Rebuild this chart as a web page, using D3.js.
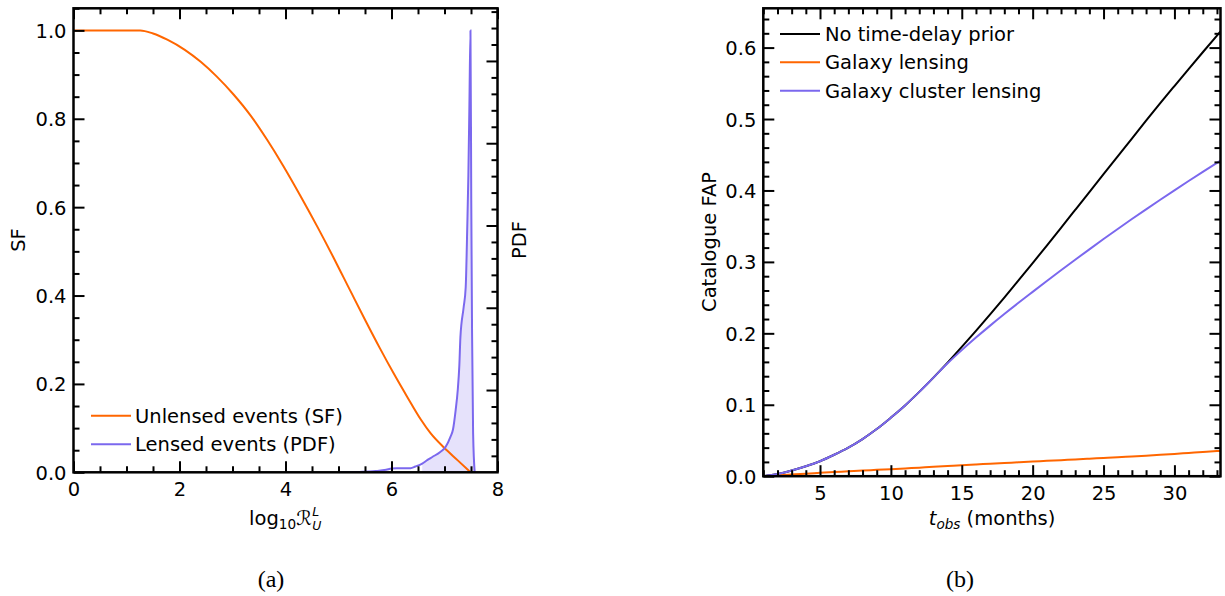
<!DOCTYPE html>
<html>
<head>
<meta charset="utf-8">
<script src="https://cdn.jsdelivr.net/npm/d3@7"></script>
<style>
  body { margin: 0; background: #fff; }
  svg { display: block; }
  text { white-space: pre; }
</style>
</head>
<body>
<svg id="fig" width="1225" height="596"></svg>
<script>
// ---------- Panel (a): log10 R_U^L distributions ----------
// Survival function of unlensed events
const sfX = [0, 1.26, 1.5, 1.77, 2.1, 2.4, 2.7, 3.02, 3.35, 3.65, 3.95, 4.28, 4.6, 4.91,
             5.1, 5.26, 5.51, 5.78, 6.04, 6.3, 6.55, 6.74, 6.99, 7.25, 7.49];
const sfY = [1, 1, 0.993, 0.979, 0.956, 0.929, 0.896, 0.855, 0.806, 0.753, 0.695, 0.626, 0.556, 0.485,
             0.440, 0.402, 0.343, 0.281, 0.224, 0.170, 0.120, 0.088, 0.056, 0.027, 0.0];
// PDF of lensed events (right-hand axis units)
const pdfX = [5.04, 5.4, 5.7, 5.9, 6.0, 6.1, 6.36, 6.45, 6.58, 6.68, 6.77, 6.92, 7.02, 7.11, 7.16,
              7.21, 7.25, 7.28, 7.30, 7.36, 7.40, 7.43, 7.45, 7.47, 7.49, 7.505, 7.52, 7.54, 7.57];
const pdfY = [0, 0.005, 0.015, 0.03, 0.045, 0.048, 0.05, 0.07, 0.106, 0.15, 0.186, 0.247, 0.307, 0.428, 0.52,
              0.754, 1.0, 1.3, 1.64, 2.0, 2.25, 3.0, 3.6, 4.47, 5.37, 3.3, 1.7, 0.47, 0];
const pdfFillFrom = 6.58;
const legendA = ["Unlensed events (SF)", "Lensed events (PDF)"];
const aXTicks = [0, 2, 4, 6, 8];
const aYTicks = [0, 0.2, 0.4, 0.6, 0.8, 1.0];
const aPdfTicks = [1, 2, 3, 4, 5];

// ---------- Panel (b): catalogue false-alarm probability ----------
const months = [1, 2, 3, 4, 5, 6, 7, 8, 9, 10, 11, 12, 13, 14, 15, 16, 17, 18, 19, 20,
                21, 22, 23, 24, 25, 26, 27, 28, 29, 30, 31, 32, 33, 33.25];
const fapNoPrior = [0.000, 0.003, 0.008, 0.014, 0.021, 0.030, 0.040, 0.052, 0.066, 0.082,
                    0.099, 0.118, 0.138, 0.159, 0.181, 0.2035, 0.2265, 0.250, 0.274, 0.2983,
                    0.3229, 0.3477, 0.3727, 0.3977, 0.4227, 0.4477, 0.4727, 0.4977, 0.5222, 0.5462,
                    0.5700, 0.5935, 0.6168, 0.6226];
const fapGalaxy = [0.0000, 0.0012, 0.0024, 0.0036, 0.0047, 0.0058, 0.0068, 0.0079, 0.0089, 0.0099,
                   0.0109, 0.0120, 0.0131, 0.0143, 0.0155, 0.0165, 0.0175, 0.0185, 0.0195, 0.0205,
                   0.0215, 0.0225, 0.0235, 0.0245, 0.0256, 0.0266, 0.0277, 0.0288, 0.0300, 0.0312,
                   0.0325, 0.0338, 0.0352, 0.0356];
const fapCluster = [0.000, 0.003, 0.008, 0.014, 0.021, 0.030, 0.040, 0.052, 0.066, 0.082,
                    0.099, 0.118, 0.138, 0.158, 0.1765, 0.194, 0.2108, 0.227, 0.2427, 0.258,
                    0.2732, 0.2882, 0.3030, 0.3176, 0.3320, 0.3461, 0.3600, 0.3736, 0.3870, 0.4002,
                    0.4132, 0.4260, 0.4386, 0.4417];
const legendB = ["No time-delay prior", "Galaxy lensing", "Galaxy cluster lensing"];
const bXTicks = [5, 10, 15, 20, 25, 30];
const bYTicks = [0, 0.1, 0.2, 0.3, 0.4, 0.5, 0.6];

// ---------- styling ----------
const FONT = "DejaVu Sans, sans-serif";
const FS = 19.5;
const FS_SMALL = 13.6;
const FS_SCRIPT = 12.5;
const ORANGE = "#ff6600";
const PURPLE = "#7b68ee";
const FILL = "#e6e2fb";

const svg = d3.select("#fig");
svg.append("rect").attr("width", 1225).attr("height", 596).attr("fill", "#fff");

function styleAxis(a) {
  a.select(".domain").remove();
  a.selectAll(".tick line").attr("stroke", "#000").attr("stroke-width", 2);
  a.selectAll("text").attr("font-family", FONT).attr("font-size", FS).attr("fill", "#000");
  return a;
}
function addAxis(g, gen, tx, ty) {
  return styleAxis(g.append("g").attr("transform", `translate(${tx},${ty})`).call(gen));
}
function frame(g, x, y) {
  const [x0, x1] = x.range(), [y0, y1] = y.range();
  g.append("rect").attr("x", x0).attr("y", y1).attr("width", x1 - x0).attr("height", y0 - y1)
    .attr("fill", "none").attr("stroke", "#000").attr("stroke-width", 2.5);
}
function measure(str, size, italic) {
  const t = svg.append("text").attr("font-family", FONT).attr("font-size", size)
    .attr("font-style", italic ? "italic" : "normal").text(str);
  const w = t.node().getComputedTextLength();
  t.remove();
  return w;
}

// ================= Panel (a) =================
const gA = svg.append("g");
const xA = d3.scaleLinear().domain([0, 8]).range([73.5, 497.5]);
const yA = d3.scaleLinear().domain([0, 1.05]).range([472.3, 8.3]);
const yPdf = d3.scaleLinear().domain([0, 5.64]).range([472.3, 8.3]);

gA.append("clipPath").attr("id", "clipA").append("rect")
  .attr("x", 73.5).attr("y", 8.3).attr("width", 424).attr("height", 464);

const pdfData = pdfX.map((x, i) => ({ x, y: pdfY[i] }));
const sfData = sfX.map((x, i) => ({ x, y: sfY[i] }));

// shaded area under the lensed PDF
gA.append("path")
  .datum(pdfData.filter(d => d.x >= pdfFillFrom))
  .attr("clip-path", "url(#clipA)")
  .attr("fill", FILL)
  .attr("d", d3.area().x(d => xA(d.x)).y0(yPdf(0)).y1(d => yPdf(d.y)).curve(d3.curveMonotoneX));

gA.append("path").datum(sfData).attr("clip-path", "url(#clipA)")
  .attr("fill", "none").attr("stroke", ORANGE).attr("stroke-width", 2)
  .attr("d", d3.line().x(d => xA(d.x)).y(d => yA(d.y)).curve(d3.curveMonotoneX));

gA.append("path").datum(pdfData).attr("clip-path", "url(#clipA)")
  .attr("fill", "none").attr("stroke", PURPLE).attr("stroke-width", 2)
  .attr("d", d3.line().x(d => xA(d.x)).y(d => yPdf(d.y)).curve(d3.curveMonotoneX));

const aXMinor = d3.range(0, 8.01, 0.5).filter(v => !aXTicks.includes(v));
const aYMinor = d3.range(0, 1.051, 0.05).map(v => +v.toFixed(2)).filter(v => !aYTicks.includes(v));
const aPdfMinor = d3.range(0.2, 5.64, 0.2).map(v => +v.toFixed(1)).filter(v => !aPdfTicks.includes(v));

addAxis(gA, d3.axisBottom(xA).tickValues(aXTicks).tickSize(-11).tickPadding(10).tickFormat(d3.format("d")), 0, 472.3);
addAxis(gA, d3.axisBottom(xA).tickValues(aXMinor).tickSize(-6).tickFormat(""), 0, 472.3);
addAxis(gA, d3.axisTop(xA).tickValues(aXTicks).tickSize(-11).tickFormat(""), 0, 8.3);
addAxis(gA, d3.axisTop(xA).tickValues(aXMinor).tickSize(-6).tickFormat(""), 0, 8.3);
const aLeft = addAxis(gA, d3.axisLeft(yA).tickValues(aYTicks).tickSize(-11).tickPadding(7).tickFormat(d3.format(".1f")), 73.5, 0);
aLeft.selectAll("text").attr("dy", "0.36em");
addAxis(gA, d3.axisLeft(yA).tickValues(aYMinor).tickSize(-6).tickFormat(""), 73.5, 0);
addAxis(gA, d3.axisRight(yPdf).tickValues(aPdfTicks).tickSize(-11).tickFormat(""), 497.5, 0);
addAxis(gA, d3.axisRight(yPdf).tickValues(aPdfMinor).tickSize(-6).tickFormat(""), 497.5, 0);
frame(gA, xA, yA);

// axis titles
gA.append("text").attr("transform", "translate(25,240) rotate(-90)")
  .attr("text-anchor", "middle").attr("font-family", FONT).attr("font-size", FS).text("SF");
gA.append("text").attr("transform", "translate(526,240) rotate(-90)")
  .attr("text-anchor", "middle").attr("font-family", FONT).attr("font-size", FS).text("PDF");

// log10 R_U^L as one text element with stacked sub/superscripts
{
  const wL = measure("L", FS_SCRIPT, true);
  const wU = measure("U", FS_SCRIPT, true);
  const total = measure("log", FS) + measure("10", FS_SMALL) + measure("\u211B", FS) + Math.max(wL, wU) + 1;
  const t = gA.append("text").attr("x", 285.5 - total / 2).attr("y", 525)
    .attr("font-family", FONT).attr("font-size", FS);
  t.append("tspan").text("log");
  t.append("tspan").attr("font-size", FS_SMALL).attr("dy", 4).text("10");
  t.append("tspan").attr("dy", -4).text("\u211B");
  t.append("tspan").attr("font-size", FS_SCRIPT).attr("font-style", "italic").attr("dy", -9.5).attr("dx", 0.5).text("L");
  t.append("tspan").attr("font-size", FS_SCRIPT).attr("font-style", "italic").attr("dy", 14.5).attr("dx", -wL).text("U");
}

// legend (a)
[[ORANGE, 415.7], [PURPLE, 444.3]].forEach(([c, y], i) => {
  gA.append("line").attr("x1", 91).attr("x2", 131).attr("y1", y).attr("y2", y)
    .attr("stroke", c).attr("stroke-width", 2);
  gA.append("text").attr("x", 135).attr("y", y + 7).attr("font-family", FONT)
    .attr("font-size", FS).text(legendA[i]);
});

svg.append("text").attr("x", 271).attr("y", 587).attr("text-anchor", "middle")
  .attr("font-family", "Liberation Serif, serif").attr("font-size", 24).text("(a)");

// ================= Panel (b) =================
const gB = svg.append("g");
const xB = d3.scaleLinear().domain([1, 33.25]).range([763.3, 1220.5]);
const yB = d3.scaleLinear().domain([0, 0.655]).range([476.2, 8.3]);

gB.append("clipPath").attr("id", "clipB").append("rect")
  .attr("x", 763.3).attr("y", 8.3).attr("width", 457.2).attr("height", 468);

const lineB = d3.line().x(d => xB(d[0])).y(d => yB(d[1])).curve(d3.curveMonotoneX);
[[fapNoPrior, "#000"], [fapGalaxy, ORANGE], [fapCluster, PURPLE]].forEach(([vals, c]) => {
  gB.append("path").datum(months.map((m, i) => [m, vals[i]]))
    .attr("clip-path", "url(#clipB)")
    .attr("fill", "none").attr("stroke", c).attr("stroke-width", 2).attr("d", lineB);
});

const bXMinor = d3.range(1, 34, 1).filter(v => !bXTicks.includes(v));
const bYMinor = d3.range(0, 0.655, 0.02).map(v => +v.toFixed(2)).filter(v => !bYTicks.some(t => Math.abs(t - v) < 1e-9));

addAxis(gB, d3.axisBottom(xB).tickValues(bXTicks).tickSize(-11).tickPadding(10).tickFormat(d3.format("d")), 0, 476.2);
addAxis(gB, d3.axisBottom(xB).tickValues(bXMinor).tickSize(-6).tickFormat(""), 0, 476.2);
addAxis(gB, d3.axisTop(xB).tickValues(bXTicks).tickSize(-11).tickFormat(""), 0, 8.3);
addAxis(gB, d3.axisTop(xB).tickValues(bXMinor).tickSize(-6).tickFormat(""), 0, 8.3);
const bLeft = addAxis(gB, d3.axisLeft(yB).tickValues(bYTicks).tickSize(-11).tickPadding(7).tickFormat(d3.format(".1f")), 763.3, 0);
bLeft.selectAll("text").attr("dy", "0.36em");
addAxis(gB, d3.axisLeft(yB).tickValues(bYMinor).tickSize(-6).tickFormat(""), 763.3, 0);
addAxis(gB, d3.axisRight(yB).tickValues(bYTicks).tickSize(-11).tickFormat(""), 1220.5, 0);
addAxis(gB, d3.axisRight(yB).tickValues(bYMinor).tickSize(-6).tickFormat(""), 1220.5, 0);
frame(gB, xB, yB);

gB.append("text").attr("transform", "translate(716,242) rotate(-90)")
  .attr("text-anchor", "middle").attr("font-family", FONT).attr("font-size", FS).text("Catalogue FAP");

// t_obs (months)
{
  const rest = "\u00A0(months)";
  const total = measure("t", FS, true) + measure("obs", FS_SMALL, true) + measure(rest, FS);
  const t = gB.append("text").attr("x", 992 - total / 2).attr("y", 525)
    .attr("font-family", FONT).attr("font-size", FS);
  t.append("tspan").attr("font-style", "italic").text("t");
  t.append("tspan").attr("font-style", "italic").attr("font-size", FS_SMALL).attr("dy", 4).text("obs");
  t.append("tspan").attr("dy", -4).text(rest);
}

// legend (b)
[["#000", 34], [ORANGE, 62.3], [PURPLE, 90.7]].forEach(([c, y], i) => {
  gB.append("line").attr("x1", 780).attr("x2", 820).attr("y1", y).attr("y2", y)
    .attr("stroke", c).attr("stroke-width", 2);
  gB.append("text").attr("x", 825).attr("y", y + 7).attr("font-family", FONT)
    .attr("font-size", FS).text(legendB[i]);
});

svg.append("text").attr("x", 960).attr("y", 587).attr("text-anchor", "middle")
  .attr("font-family", "Liberation Serif, serif").attr("font-size", 24).text("(b)");
</script>
</body>
</html>
